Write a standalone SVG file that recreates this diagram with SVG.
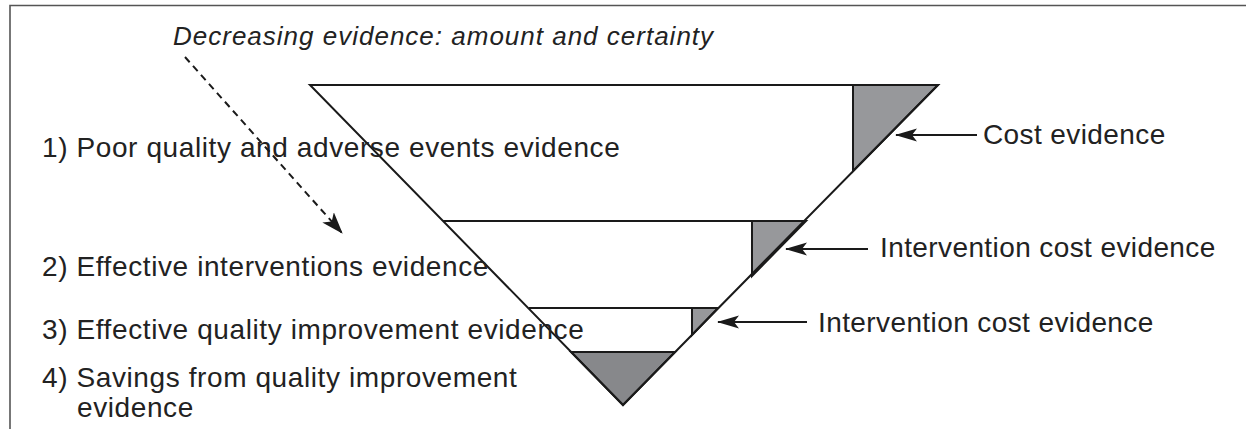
<svg xmlns="http://www.w3.org/2000/svg" width="1246" height="429" viewBox="0 0 1246 429">
  <style>
    .frame { fill: none; stroke: #555555; stroke-width: 1.6; }
    .edge { fill: none; stroke: #1a1a1a; stroke-width: 2; stroke-linejoin: miter; }
    .shade { fill: #97989b; stroke: #1a1a1a; stroke-width: 2; }
    .shade-dark { fill: #87888b; stroke: #1a1a1a; stroke-width: 2; }
    .lbl { font-family: "Liberation Sans", Arial, sans-serif; font-size: 28px; fill: #222222; letter-spacing: 0.6px; }
    .rlbl { font-family: "Liberation Sans", Arial, sans-serif; font-size: 28px; fill: #222222; letter-spacing: 0.4px; }
    .title { font-family: "Liberation Sans", Arial, sans-serif; font-size: 26px; font-style: italic; fill: #222222; letter-spacing: 1px; }
    .arrow { fill: none; stroke: #1a1a1a; stroke-width: 2; }
    .dashed { fill: none; stroke: #1a1a1a; stroke-width: 2; stroke-dasharray: 7 5; }
  </style>
  <defs>
    <marker id="head" markerUnits="userSpaceOnUse" markerWidth="24" markerHeight="16" viewBox="0 -8 22 16" refX="21" refY="0" orient="auto">
      <path d="M0,-6.5 L22,0 L0,6.5 L5,0 Z" fill="#1a1a1a" stroke="none"/>
    </marker>
    <marker id="headDash" markerUnits="userSpaceOnUse" markerWidth="22" markerHeight="18" viewBox="0 -8 20 16" refX="19" refY="0" orient="auto">
      <path d="M0,-7 L20,0 L0,7 L5,0 Z" fill="#1a1a1a" stroke="none"/>
    </marker>
  </defs>

  <g id="frame">
    <polyline class="frame" points="10,429 10,5.5 1246,5.5"/>
  </g>

  <g id="title">
    <text class="title" x="173" y="45">Decreasing evidence: amount and certainty</text>
  </g>

  <g id="funnel">
    <polygon id="bottom-tri" class="shade-dark" points="571,352 675,352 623,405"/>
    <polygon id="cost-tri" class="shade" points="853,85 938,85 853,171"/>
    <polygon id="int-cost-tri-1" class="shade" points="752,221 806,221 752,276"/>
    <polygon id="int-cost-tri-2" class="shade" points="692,308 718,308 692,335"/>
    <polygon class="edge" points="310,85 938,85 623,405"/>
    <line class="edge" x1="443" y1="221" x2="806" y2="221"/>
    <line class="edge" x1="529" y1="308" x2="718" y2="308"/>
  </g>

  <g id="level-1"><text class="lbl" x="42" y="157">1) Poor quality and adverse events evidence</text></g>
  <g id="level-2"><text class="lbl" x="42" y="276">2) Effective interventions evidence</text></g>
  <g id="level-3"><text class="lbl" x="42" y="339">3) Effective quality improvement evidence</text></g>
  <g id="level-4">
    <text class="lbl" x="42" y="387">4) Savings from quality improvement</text>
    <text class="lbl" x="77" y="417">evidence</text>
  </g>

  <g id="label-cost"><text class="rlbl" x="983" y="144">Cost evidence</text></g>
  <g id="label-int-cost-1"><text class="rlbl" x="880" y="257">Intervention cost evidence</text></g>
  <g id="label-int-cost-2"><text class="rlbl" x="818" y="332">Intervention cost evidence</text></g>

  <g id="connectors">
    <line class="dashed" x1="185" y1="57" x2="342" y2="233" marker-end="url(#headDash)"/>
    <line class="arrow" x1="977" y1="135" x2="896" y2="135" marker-end="url(#head)"/>
    <line class="arrow" x1="868" y1="249" x2="786" y2="249" marker-end="url(#head)"/>
    <line class="arrow" x1="807" y1="322" x2="718" y2="322" marker-end="url(#head)"/>
  </g>
</svg>
